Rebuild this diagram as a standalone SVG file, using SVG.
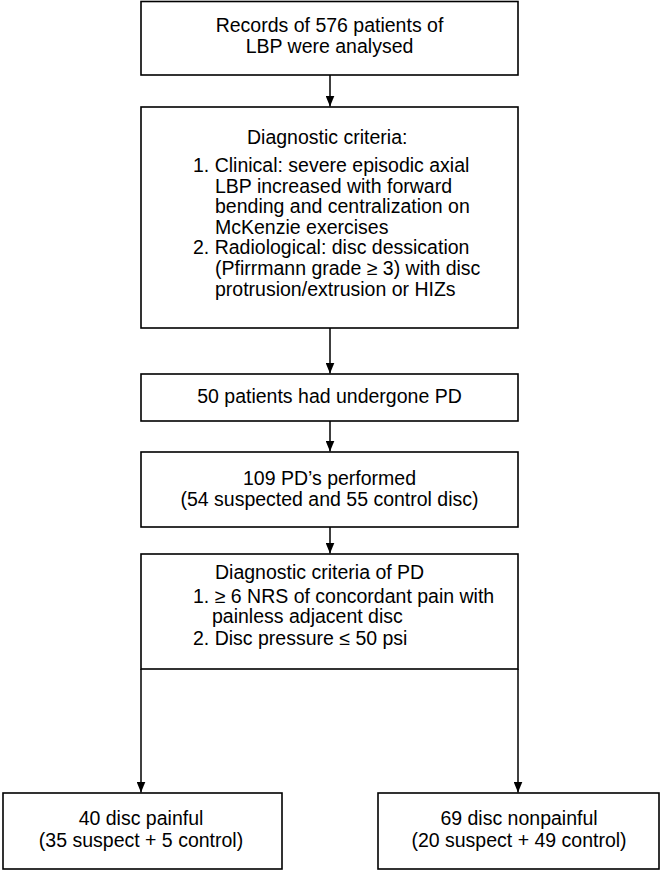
<svg xmlns="http://www.w3.org/2000/svg" width="661" height="872" viewBox="0 0 661 872">
<style>
.box{fill:#fff;stroke:#000;stroke-width:1.6}
.t{font-family:"Liberation Sans",Arial,sans-serif;font-size:19.5px;fill:#000}
.c{text-anchor:middle}
.conn{stroke:#000;stroke-width:1.5;fill:none}
</style>
<defs>
<marker id="ah" viewBox="0 0 11 9" refX="11" refY="4.5" markerWidth="11" markerHeight="9" markerUnits="userSpaceOnUse" orient="auto">
<path d="M0,0 L11,4.5 L0,9 z" fill="#000"/>
</marker>
</defs>
<rect width="661" height="872" fill="#fff"/>
<g id="connectors">
<line class="conn" x1="330" y1="75" x2="330" y2="106.5" marker-end="url(#ah)"/>
<line class="conn" x1="330" y1="328" x2="330" y2="373.5" marker-end="url(#ah)"/>
<line class="conn" x1="330" y1="421" x2="330" y2="451.5" marker-end="url(#ah)"/>
<line class="conn" x1="330" y1="527" x2="330" y2="553.5" marker-end="url(#ah)"/>
<line class="conn" x1="141" y1="669" x2="141" y2="792.5" marker-end="url(#ah)"/>
<line class="conn" x1="518" y1="669" x2="518" y2="792.5" marker-end="url(#ah)"/>
</g>
<g id="n1">
<rect class="box" x="141" y="1.5" width="377" height="73.5"/>
<text class="t c" x="329.5" y="32">Records of 576 patients of</text>
<text class="t c" x="329.5" y="53">LBP were analysed</text>
</g>
<g id="n2">
<rect class="box" x="141" y="107" width="377" height="221"/>
<text class="t" x="247" y="144">Diagnostic criteria:</text>
<text class="t" x="193" y="172">1. Clinical: severe episodic axial</text>
<text class="t" x="215" y="193">LBP increased with forward</text>
<text class="t" x="215" y="213">bending and centralization on</text>
<text class="t" x="215" y="234">McKenzie exercises</text>
<text class="t" x="193" y="254">2. Radiological: disc dessication</text>
<text class="t" x="215" y="275">(Pfirrmann grade ≥ 3) with disc</text>
<text class="t" x="215" y="296">protrusion/extrusion or HIZs</text>
</g>
<g id="n3">
<rect class="box" x="141" y="374" width="377" height="47"/>
<text class="t c" x="329.5" y="403">50 patients had undergone PD</text>
</g>
<g id="n4">
<rect class="box" x="141" y="452" width="377" height="75"/>
<text class="t c" x="329.5" y="485">109 PD’s performed</text>
<text class="t c" x="329.5" y="506">(54 suspected and 55 control disc)</text>
</g>
<g id="n5">
<rect class="box" x="141" y="554" width="377" height="115"/>
<text class="t" x="215" y="579">Diagnostic criteria of PD</text>
<text class="t" x="193" y="603">1. ≥ 6 NRS of concordant pain with</text>
<text class="t" x="212" y="623">painless adjacent disc</text>
<text class="t" x="193" y="645">2. Disc pressure ≤ 50 psi</text>
</g>
<g id="n6">
<rect class="box" x="3" y="793" width="279" height="76"/>
<text class="t c" x="141" y="825">40 disc painful</text>
<text class="t c" x="141" y="847">(35 suspect + 5 control)</text>
</g>
<g id="n7">
<rect class="box" x="378" y="793" width="281" height="76"/>
<text class="t c" x="519" y="825">69 disc nonpainful</text>
<text class="t c" x="519" y="847">(20 suspect + 49 control)</text>
</g>
</svg>
